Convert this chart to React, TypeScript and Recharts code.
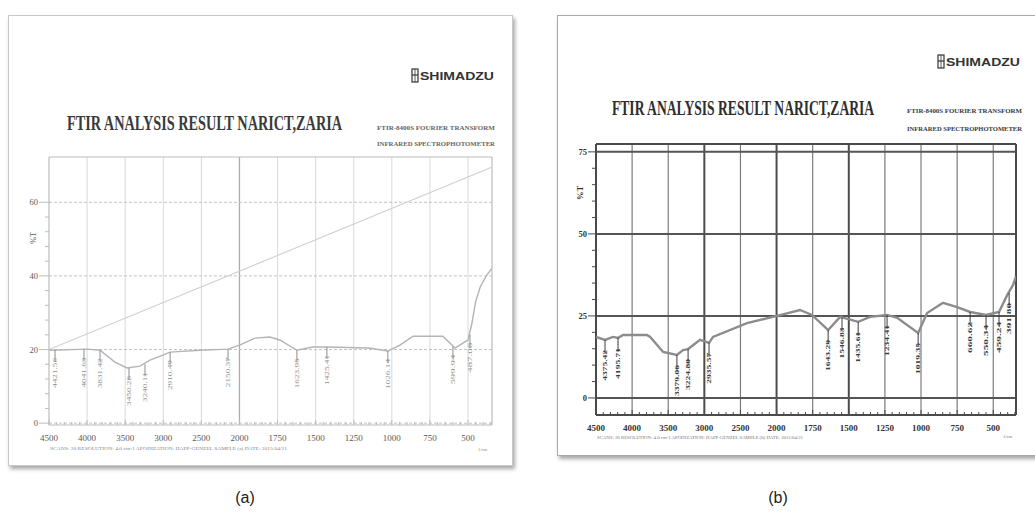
import React from 'react';
import { ComposedChart, Line, Scatter, XAxis, YAxis, ReferenceLine } from 'recharts';

// wavenumber axis labels (Shimadzu split scale: 500 steps above 2000, 250 steps below)
const xTickLabels = ['4500', '4000', '3500', '3000', '2500', '2000', '1750', '1500', '1250', '1000', '750', '500'];

// panel (a)
const specAWn = [4500, 4000, 3830, 3635, 3475, 3305, 3175, 3005, 2910, 2520, 2150, 2000, 1898, 1800, 1735, 1623, 1520, 1426, 1150, 1026, 947, 860, 665, 585, 500, 475, 450, 420, 380, 345];
const specAT = [19.8, 20.1, 19.8, 16.6, 15.0, 15.5, 17.1, 18.5, 19.3, 19.8, 20.1, 21.2, 23.1, 23.4, 22.6, 19.8, 20.7, 20.7, 20.4, 19.6, 21.2, 23.6, 23.6, 20.4, 22.6, 27, 33, 37, 40, 42];
const baseAWn = [4500, 345];
const baseAT = [20, 69.5];
const peakAWn = [4421, 4041, 3830, 3450, 3240, 2910, 2150, 1623, 1426, 1026, 599, 487];
const peakAT = [19.9, 20.0, 19.8, 15.0, 16.0, 19.3, 20.1, 19.8, 20.7, 19.6, 20.8, 24];
const peakALabels = ['4421.56', '4041.63', '3831.42', '3450.28', '3240.11', '2910.49', '2150.37', '1623.95', '1425.41', '1026.14', '599.94', '487.06'];
const yMajorA = [0, 20, 40, 60];

// panel (b)
const specBWn = [4500, 4375, 4265, 4195, 4125, 3795, 3750, 3570, 3380, 3295, 3225, 3060, 2935, 2880, 2410, 1997, 1838, 1755, 1643, 1560, 1435, 1353, 1235, 1165, 1020, 958, 848, 750, 660, 550, 460, 403, 362, 343];
const specBT = [18.6, 17.7, 18.6, 18.3, 19.2, 19.2, 18.6, 14.0, 13.1, 14.6, 14.9, 17.7, 16.8, 18.6, 22.8, 25.0, 26.8, 25.3, 20.7, 24.7, 23.2, 24.7, 25.3, 24.4, 19.8, 25.9, 29.0, 27.7, 26.2, 25.3, 26.2, 31.4, 34.5, 37];
const peakBWn = [4375, 4195, 3380, 3225, 2935, 1643, 1547, 1435, 1235, 1020, 660, 550, 460, 390];
const peakBT = [17.7, 18.3, 13.1, 14.9, 16.8, 20.7, 24.5, 23.2, 25.3, 19.8, 26.2, 25.3, 26.2, 32];
const peakBLabels = ['4375.42', '4195.71', '3379.06', '3224.80', '2935.57', '1643.29', '1546.83', '1435.61', '1234.41', '1019.35', '660.62', '550.34', '459.24', '391.80'];
const yMajorB = [0, 25, 50, 75];

const toPos = (wn: number) => (wn >= 2000 ? (4500 - wn) / 500 : 5 + (2000 - wn) / 250);
const rows = (wn: number[], t: number[], labels?: string[]) =>
  wn.map((w, i) => ({ u: toPos(w), v: t[i], label: labels ? labels[i] : '' }));

const X_END = 11.63;
const xMinor = Array.from({ length: 59 }, (_, i) => Math.round(i * 2) / 10);
const serif = '"Liberation Serif", "DejaVu Serif", serif';
const sans = '"Liberation Sans", Arial, sans-serif';

type Look = {
  grid: string; gridStrong: string; gridW: number; gridStrongW: number; strongAt: number[];
  hLine: string; hLineW: number; hDash?: string;
  frame: string; frameW: number;
  spec: string; specW: number;
  text: string; peak: string; peakFont: number; peakLen: number; peakGap: number; bold: boolean;
  yLabelGap: number;
};

const lookA: Look = {
  grid: '#dadada', gridStrong: '#ababab', gridW: 1, gridStrongW: 1.3, strongAt: [5],
  hLine: '#c2c2c2', hLineW: 1, hDash: '3 2',
  frame: '#bcbcbc', frameW: 1.2,
  spec: '#b4b4b4', specW: 1.4,
  text: '#5a5a5a', peak: '#8e8e8e', peakFont: 6, peakLen: 30, peakGap: 8, bold: false,
  yLabelGap: 11,
};

const lookB: Look = {
  grid: '#7c7c7c', gridStrong: '#4c4c4c', gridW: 1.2, gridStrongW: 2, strongAt: [3, 5, 7],
  hLine: '#555', hLineW: 2,
  frame: '#4a4a4a', frameW: 2,
  spec: '#8c8c8c', specW: 2.4,
  text: '#333', peak: '#3c3c3c', peakFont: 6.5, peakLen: 31, peakGap: 10, bold: true,
  yLabelGap: 9,
};

type PanelProps = {
  width: number; height: number;
  margin: { top: number; right: number; bottom: number; left: number };
  yDomain: [number, number]; yMajor: number[]; yStep: number;
  spec: { u: number; v: number }[];
  base?: { u: number; v: number }[];
  peaks: { u: number; v: number; label: string }[];
  look: Look;
};

function Spectrum({ width, height, margin, yDomain, yMajor, yStep, spec, base, peaks, look }: PanelProps) {
  const yTicks: number[] = [];
  for (let t = 0; t <= yMajor[yMajor.length - 1] + 1e-6; t += yStep) yTicks.push(t);

  const xTick = (p: any) => {
    const v = p.payload.value;
    const major = Math.abs(v - Math.round(v)) < 1e-6;
    return (
      <g>
        <line x1={p.x} x2={p.x} y1={p.y} y2={p.y - (major ? 5 : 3)} stroke={look.frame} strokeWidth={1} />
        {major && (
          <text x={p.x} y={p.y + 15.5} textAnchor="middle" fontSize={9} fontFamily={serif}
            fontWeight={look.bold ? 700 : 400} fill={look.text}>
            {xTickLabels[Math.round(v)]}
          </text>
        )}
      </g>
    );
  };

  const yTick = (p: any) => {
    const v = p.payload.value;
    const major = yMajor.includes(v);
    return (
      <g>
        <line x1={p.x - (major ? look.yLabelGap - 1 : 4)} x2={p.x} y1={p.y} y2={p.y} stroke={look.frame} strokeWidth={1} />
        {major && (
          <text x={p.x - look.yLabelGap} y={p.y + 3} textAnchor="end" fontSize={8.5} fontFamily={serif}
            fontWeight={look.bold ? 700 : 400} fill={look.text}>
            {v}
          </text>
        )}
      </g>
    );
  };

  const peakShape = (p: any) => {
    const { cx, cy, payload } = p;
    const top = cy + look.peakGap;
    return (
      <g>
        <line x1={cx} x2={cx} y1={cy} y2={top + 4} stroke={look.peak} strokeWidth={1} />
        <text
          transform={`translate(${cx + look.peakFont * 0.35},${top}) rotate(-90)`}
          textAnchor="end" fontSize={look.peakFont} fontFamily={serif}
          fontWeight={look.bold ? 700 : 400} fill={look.peak}
          textLength={look.peakLen} lengthAdjust="spacingAndGlyphs">
          {payload.label}
        </text>
      </g>
    );
  };

  return (
    <ComposedChart width={width} height={height} margin={margin}>
      <XAxis type="number" dataKey="u" domain={[0, X_END]} ticks={xMinor} interval={0}
        allowDataOverflow axisLine={false} tickLine={false} tickSize={0} tickMargin={0}
        height={30} tick={xTick} />
      <YAxis type="number" domain={yDomain} ticks={yTicks} interval={0} allowDataOverflow
        axisLine={false} tickLine={false} tickSize={0} tickMargin={0} width={30} tick={yTick} />
      {xTickLabels.slice(1).map((_, i) => {
        const strong = look.strongAt.includes(i + 1);
        return (
          <ReferenceLine key={'vx' + i} x={i + 1} stroke={strong ? look.gridStrong : look.grid}
            strokeWidth={strong ? look.gridStrongW : look.gridW} />
        );
      })}
      {yMajor.map((t) => (
        <ReferenceLine key={'hy' + t} y={t} stroke={look.hLine} strokeWidth={look.hLineW}
          strokeDasharray={look.hDash} />
      ))}
      <ReferenceLine x={0} stroke={look.frame} strokeWidth={look.frameW} />
      <ReferenceLine x={X_END} stroke={look.frame} strokeWidth={look.frameW} />
      <ReferenceLine y={yDomain[0]} stroke={look.frame} strokeWidth={look.frameW} />
      <ReferenceLine y={yDomain[1]} stroke={look.frame} strokeWidth={look.frameW} />
      {base && (
        <Line data={base} dataKey="v" type="linear" stroke="#cfcfcf" strokeWidth={1.1}
          dot={false} isAnimationActive={false} />
      )}
      <Line data={spec} dataKey="v" type="linear" stroke={look.spec} strokeWidth={look.specW}
        dot={false} isAnimationActive={false} />
      <Scatter data={peaks} dataKey="v" shape={peakShape} isAnimationActive={false} />
    </ComposedChart>
  );
}

function Logo({ x, y }: { x: number; y: number }) {
  return (
    <g>
      <rect x={x} y={y - 7} width={6} height={13} fill="none" stroke="#333" strokeWidth={1.2} />
      <line x1={x} x2={x + 6} y1={y - 1} y2={y - 1} stroke="#333" strokeWidth={1.2} />
      <line x1={x + 3} x2={x + 3} y1={y - 7} y2={y + 6} stroke="#333" strokeWidth={0.8} />
      <text x={x + 8} y={y + 4} fontSize={10} fontWeight={700} fontFamily={sans}
        fill="#333" textLength={74} lengthAdjust="spacingAndGlyphs">SHIMADZU</text>
    </g>
  );
}

export default function App() {
  return (
    <div style={{ position: 'absolute', left: 0, top: 0, width: 1035, height: 521, background: '#fff', overflow: 'hidden' }}>
      <div style={{ position: 'absolute', left: 8, top: 15, width: 503, height: 449, border: '1px solid #c8c8c8', boxShadow: '2px 3px 4px rgba(0,0,0,0.35)', background: '#fff' }} />
      <div style={{ position: 'absolute', left: 557, top: 15, width: 480, height: 439, border: '1px solid #a8a8a8', boxShadow: '2px 3px 4px rgba(0,0,0,0.35)', background: '#fff' }} />

      <div style={{ position: 'absolute', left: 0, top: 0 }}>
        <Spectrum width={520} height={470} margin={{ top: 157, right: 28, bottom: 15, left: 19 }}
          yDomain={[-0.5, 72.3]} yMajor={yMajorA} yStep={4}
          spec={rows(specAWn, specAT)} base={rows(baseAWn, baseAT)}
          peaks={rows(peakAWn, peakAT, peakALabels)} look={lookA} />
      </div>
      <div style={{ position: 'absolute', left: 520, top: 0 }}>
        <Spectrum width={515} height={470} margin={{ top: 144, right: 19, bottom: 25, left: 46 }}
          yDomain={[-5.2, 77.4]} yMajor={yMajorB} yStep={5}
          spec={rows(specBWn, specBT)}
          peaks={rows(peakBWn, peakBT, peakBLabels)} look={lookB} />
      </div>

      <svg width={1035} height={521} style={{ position: 'absolute', left: 0, top: 0, pointerEvents: 'none' }}>
        {/* panel (a) header */}
        <Logo x={412} y={76} />
        <text transform="translate(67,130) scale(0.68,1)" fontSize={21} fontWeight={700} fontFamily={serif}
          fill="#3a3a3a">FTIR ANALYSIS RESULT NARICT,ZARIA</text>
        <text x={377} y={129.5} fontSize={6} fontWeight={700} fontFamily={serif} fill="#666"
          textLength={118} lengthAdjust="spacingAndGlyphs">FTIR-8400S FOURIER TRANSFORM</text>
        <text x={377} y={145.5} fontSize={6} fontWeight={700} fontFamily={serif} fill="#666"
          textLength={118} lengthAdjust="spacingAndGlyphs">INFRARED SPECTROPHOTOMETER</text>
        <text transform="translate(36,238) rotate(-90)" textAnchor="middle" fontSize={8} fontFamily={serif} fill="#555">%T</text>
        <text x={50} y={450} fontSize={4.5} fontFamily={serif} fill="#888" textLength={237}
          lengthAdjust="spacingAndGlyphs">SCANS: 20  RESOLUTION: 4.0 cm-1  APODIZATION: HAPP-GENZEL  SAMPLE (a)  DATE: 2015/04/21</text>
        <text x={478} y={451} fontSize={4.5} fontFamily={serif} fill="#888">1/cm</text>

        {/* panel (b) header */}
        <Logo x={938} y={62} />
        <text transform="translate(612,115) scale(0.68,1)" fontSize={20} fontWeight={700} fontFamily={serif}
          fill="#2e2e2e">FTIR ANALYSIS RESULT NARICT,ZARIA</text>
        <text x={907} y={113} fontSize={7} fontWeight={700} fontFamily={serif} fill="#3a3a3a"
          textLength={115} lengthAdjust="spacingAndGlyphs">FTIR-8400S FOURIER TRANSFORM</text>
        <text x={907} y={131} fontSize={7} fontWeight={700} fontFamily={serif} fill="#3a3a3a"
          textLength={115} lengthAdjust="spacingAndGlyphs">INFRARED SPECTROPHOTOMETER</text>
        <text transform="translate(583,193) rotate(-90)" textAnchor="middle" fontSize={8.5} fontWeight={700} fontFamily={serif} fill="#333">%T</text>
        <text x={597} y={439} fontSize={4.5} fontFamily={serif} fill="#777" textLength={206}
          lengthAdjust="spacingAndGlyphs">SCANS: 20  RESOLUTION: 4.0 cm-1  APODIZATION: HAPP-GENZEL  SAMPLE (b)  DATE: 2015/04/21</text>
        <text x={1003} y={438} fontSize={4.5} fontFamily={serif} fill="#777">1/cm</text>

        {/* captions */}
        <text x={245} y={503} textAnchor="middle" fontSize={16} fontFamily={sans} fill="#222">(a)</text>
        <text x={778} y={503} textAnchor="middle" fontSize={16} fontFamily={sans} fill="#222">(b)</text>
      </svg>
    </div>
  );
}
